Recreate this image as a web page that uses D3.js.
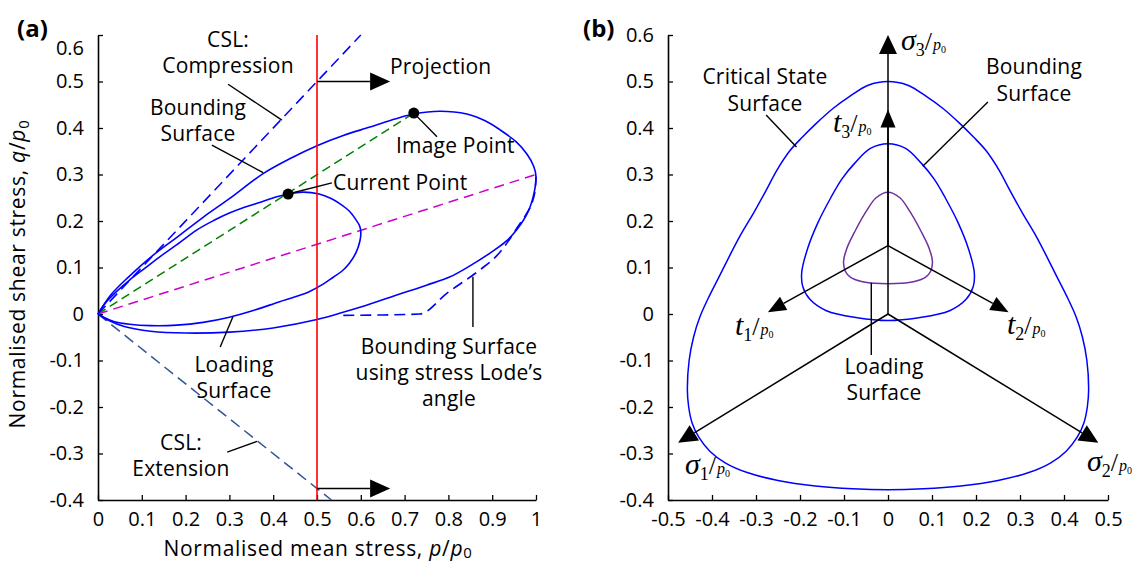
<!DOCTYPE html>
<html>
<head>
<meta charset="utf-8">
<script src="https://cdn.jsdelivr.net/npm/d3@7"></script>
<style>
  body { margin: 0; background: #fff; }
  svg { display: block; font-family: "Open Sans", sans-serif; }
</style>
</head>
<body>
<svg width="1142" height="562"></svg>
<script>
// ---------- data ----------
const ticksP = [0, 0.1, 0.2, 0.3, 0.4, 0.5, 0.6, 0.7, 0.8, 0.9, 1];
const ticksQ = [-0.4, -0.3, -0.2, -0.1, 0, 0.1, 0.2, 0.3, 0.4, 0.5, 0.6];
const ticksDev = [-0.5, -0.4, -0.3, -0.2, -0.1, 0, 0.1, 0.2, 0.3, 0.4, 0.5];

// panel (a): p/p0, q/p0
const cslCompression = [[0, 0], [0.6, 0.6]];
const cslExtension = [[0, 0], [0.533, -0.4]];
const projectionP = 0.5;
const imagePoint = [0.721, 0.432];
const currentPoint = [0.434, 0.258];
const imageLine = [[0, 0], imagePoint];
const lodeLine = [[0, 0], [1, 0.3]];
const projectionArrows = [
  [[0.5, 0.5], [0.667, 0.5]],
  [[0.5, -0.375], [0.667, -0.375]]
];
const boundingA = [
  [0, 0], [0.03, 0.042], [0.07, 0.08], [0.12, 0.122], [0.18, 0.165], [0.24, 0.208],
  [0.3, 0.248], [0.377, 0.302], [0.44, 0.335], [0.5, 0.362], [0.56, 0.384], [0.621, 0.402],
  [0.68, 0.42], [0.721, 0.43], [0.78, 0.436], [0.842, 0.43], [0.885, 0.415], [0.918, 0.396],
  [0.955, 0.37], [0.98, 0.343], [0.995, 0.317], [1.0, 0.295], [0.996, 0.262], [0.982, 0.22],
  [0.956, 0.181], [0.93, 0.155], [0.895, 0.131], [0.85, 0.104], [0.804, 0.08], [0.75, 0.062],
  [0.689, 0.043], [0.6, 0.015], [0.5, -0.012], [0.4, -0.03], [0.3, -0.039], [0.2, -0.041],
  [0.12, -0.037], [0.06, -0.027], [0.025, -0.014], [0, 0]
];
const loadingA = [
  [0, 0], [0.018, 0.025], [0.042, 0.048], [0.072, 0.073], [0.108, 0.099], [0.144, 0.125],
  [0.18, 0.149], [0.226, 0.181], [0.264, 0.201], [0.3, 0.217], [0.336, 0.23], [0.373, 0.241],
  [0.408, 0.252], [0.434, 0.258], [0.468, 0.262], [0.505, 0.258], [0.531, 0.249], [0.551, 0.238],
  [0.573, 0.222], [0.588, 0.204], [0.597, 0.19], [0.6, 0.177], [0.598, 0.157], [0.589, 0.132],
  [0.574, 0.109], [0.558, 0.093], [0.537, 0.079], [0.51, 0.062], [0.482, 0.048], [0.45, 0.037],
  [0.413, 0.026], [0.36, 0.009], [0.3, -0.007], [0.24, -0.018], [0.18, -0.024], [0.12, -0.025],
  [0.072, -0.022], [0.036, -0.016], [0.015, -0.008], [0, 0]
];
const boundingLode = [
  [0.56, -0.003], [0.65, -0.002], [0.735, 0], [0.797, 0.045], [0.872, 0.095], [0.91, 0.125],
  [0.934, 0.153], [0.96, 0.19], [0.979, 0.217], [0.993, 0.245], [0.998, 0.267], [1.0, 0.295]
];

// panel (b): deviatoric plane
const criticalSurface = [
  [0, 0.5], [0.045, 0.492], [0.087, 0.468], [0.125, 0.442], [0.163, 0.41], [0.195, 0.38],
  [0.224, 0.35], [0.252, 0.31], [0.277, 0.266], [0.305, 0.218], [0.335, 0.17], [0.36, 0.125],
  [0.384, 0.08], [0.408, 0.035], [0.427, -0.005], [0.442, -0.05], [0.452, -0.1], [0.456, -0.163],
  [0.453, -0.2], [0.445, -0.235], [0.43, -0.265], [0.405, -0.295], [0.37, -0.32], [0.32, -0.341],
  [0.25, -0.358], [0.165, -0.37], [0.08, -0.376], [0, -0.378], [-0.08, -0.376], [-0.165, -0.37],
  [-0.25, -0.358], [-0.32, -0.341], [-0.37, -0.32], [-0.405, -0.295], [-0.43, -0.265], [-0.445, -0.235],
  [-0.453, -0.2], [-0.456, -0.163], [-0.452, -0.1], [-0.442, -0.05], [-0.427, -0.005], [-0.408, 0.035],
  [-0.384, 0.08], [-0.36, 0.125], [-0.335, 0.17], [-0.305, 0.218], [-0.277, 0.266], [-0.252, 0.31],
  [-0.224, 0.35], [-0.195, 0.38], [-0.163, 0.41], [-0.125, 0.442], [-0.087, 0.468], [-0.045, 0.492]
];
const boundingB = [
  [0, 0.366], [0.04, 0.356], [0.075, 0.325], [0.105, 0.29], [0.13, 0.25], [0.16, 0.195],
  [0.183, 0.14], [0.196, 0.09], [0.194, 0.06], [0.178, 0.032], [0.14, 0.007], [0.07, -0.008],
  [0, -0.014], [-0.07, -0.008], [-0.14, 0.007], [-0.178, 0.032], [-0.194, 0.06], [-0.196, 0.09],
  [-0.183, 0.14], [-0.16, 0.195], [-0.13, 0.25], [-0.105, 0.29], [-0.075, 0.325], [-0.04, 0.356]
];
const loadingB = [
  [0, 0.262], [0.027, 0.25], [0.05, 0.22], [0.075, 0.178], [0.094, 0.14], [0.101, 0.113],
  [0.097, 0.092], [0.085, 0.079], [0.06, 0.07], [0.03, 0.066], [0, 0.065], [-0.03, 0.066],
  [-0.06, 0.07], [-0.085, 0.079], [-0.097, 0.092], [-0.101, 0.113], [-0.094, 0.14], [-0.075, 0.178],
  [-0.05, 0.22], [-0.027, 0.25]
];
const stressAxes = [
  [[0, 0], [0, 0.6]], [[0, 0], [-0.477, -0.277]], [[0, 0], [0.478, -0.277]]
];
const tAxes = [
  [[0, 0.147], [0, 0.44]], [[0, 0.147], [-0.273, 0.004]], [[0, 0.147], [0.274, 0.004]]
];

// ---------- setup ----------
const svg = d3.select("svg");
const FS = 20;   // tick labels
const LS = 21;   // annotation text
const fmt = d => String(+d.toFixed(1));

const xA = d3.scaleLinear().domain([0, 1]).range([98, 536]);
const yA = d3.scaleLinear().domain([-0.4, 0.6]).range([500, 35]);
const xB = d3.scaleLinear().domain([-0.5, 0.5]).range([668, 1108]);
const yB = yA.copy();

function drawAxes(x, y, xt, yt) {
  const g = svg.append("g");
  const gx = g.append("g").attr("transform", `translate(0,${y.range()[0]})`)
    .call(d3.axisBottom(x).tickValues(xt).tickFormat(fmt).tickSize(-5).tickSizeOuter(0).tickPadding(12));
  const gy = g.append("g").attr("transform", `translate(${x.range()[0]},0)`)
    .call(d3.axisLeft(y).tickValues(yt).tickFormat(fmt).tickSize(-5).tickSizeOuter(0).tickPadding(14));
  g.selectAll(".domain").attr("stroke", "#000").attr("stroke-width", 1.6);
  g.selectAll(".tick line").attr("stroke", "#000").attr("stroke-width", 1.3);
  g.selectAll("text").attr("font-family", "Open Sans, sans-serif").attr("font-size", FS).attr("fill", "#000");
  return {gx, gy};
}

const line = (x, y, curve) => d3.line().x(d => x(d[0])).y(d => y(d[1])).curve(curve || d3.curveLinear);

function path(x, y, data, color, opts = {}) {
  return svg.append("path").datum(data)
    .attr("d", line(x, y, opts.curve)(data))
    .attr("fill", "none").attr("stroke", color)
    .attr("stroke-width", opts.width || 1.6)
    .attr("stroke-dasharray", opts.dash || null);
}

function arrow(x, y, seg, len, wid) {
  const [a, b] = seg;
  const x0 = x(a[0]), y0 = y(a[1]), x1 = x(b[0]), y1 = y(b[1]);
  const ang = Math.atan2(y1 - y0, x1 - x0);
  const bx = x1 - len * Math.cos(ang), by = y1 - len * Math.sin(ang);
  svg.append("line").attr("x1", x0).attr("y1", y0).attr("x2", bx).attr("y2", by)
    .attr("stroke", "#000").attr("stroke-width", 1.5);
  const px = Math.sin(ang) * wid / 2, py = -Math.cos(ang) * wid / 2;
  svg.append("path")
    .attr("d", `M${x1},${y1}L${bx + px},${by + py}L${bx - px},${by - py}Z`)
    .attr("fill", "#000");
}

function leader(x, y, a, b) {
  svg.append("line").attr("x1", x(a[0])).attr("y1", y(a[1])).attr("x2", x(b[0])).attr("y2", y(b[1]))
    .attr("stroke", "#000").attr("stroke-width", 1.4);
}

function label(lines, cx, cy, anchor = "middle", gap = 26) {
  lines.forEach((t, i) => {
    svg.append("text").attr("x", cx).attr("y", cy + i * gap).attr("dy", "0.35em")
      .attr("text-anchor", anchor).attr("font-size", LS).attr("letter-spacing", 0.2)
      .attr("fill", "#000").text(t);
  });
}

// ---------- panel (a) ----------
const axA = drawAxes(xA, yA, ticksP, ticksQ);
axA.gy.selectAll(".tick text").filter(d => d === 0.6).attr("dy", "0.95em");

path(xA, yA, cslCompression, "#0000ff", {dash: "11,6", width: 1.5});
path(xA, yA, cslExtension, "#2f5597", {dash: "11,6", width: 1.5});
path(xA, yA, imageLine, "#008000", {dash: "9,5", width: 1.5});
path(xA, yA, lodeLine, "#cc00cc", {dash: "10,6", width: 1.5});
path(xA, yA, boundingLode, "#0000ff", {dash: "11,6", width: 1.6, curve: d3.curveMonotoneX});
path(xA, yA, boundingA, "#0000ff", {curve: d3.curveCatmullRom});
path(xA, yA, loadingA, "#0000ff", {curve: d3.curveCatmullRom});

svg.append("line")
  .attr("x1", xA(projectionP)).attr("x2", xA(projectionP))
  .attr("y1", yA(-0.4)).attr("y2", yA(0.6))
  .attr("stroke", "#ff0000").attr("stroke-width", 1.6);

projectionArrows.forEach(s => arrow(xA, yA, s, 20, 18));

svg.selectAll("circle.pt").data([imagePoint, currentPoint]).enter().append("circle")
  .attr("class", "pt").attr("cx", d => xA(d[0])).attr("cy", d => yA(d[1])).attr("r", 5.5).attr("fill", "#000");

leader(xA, yA, [0.297, 0.494], [0.42, 0.417]);
leader(xA, yA, [0.26, 0.363], [0.377, 0.304]);
leader(xA, yA, imagePoint, [0.774, 0.381]);
leader(xA, yA, currentPoint, [0.534, 0.282]);
leader(xA, yA, [0.308, -0.006], [0.279, -0.071]);
leader(xA, yA, [0.856, 0.08], [0.856, -0.028]);
leader(xA, yA, [0.295, -0.297], [0.363, -0.274]);

label(["CSL:", "Compression"], 228, 40);
label(["Bounding", "Surface"], 198, 108);
label(["Projection"], 390, 67, "start");
label(["Image Point"], 396, 146, "start");
label(["Current Point"], 333, 183, "start");
label(["Loading", "Surface"], 234, 365);
label(["Bounding Surface", "using stress Lode\u2019s", "angle"], 449, 347);
label(["CSL:", "Extension"], 181, 443);

svg.append("text").attr("x", 17).attr("y", 29).attr("dy", "0.35em").attr("font-size", 24)
  .attr("font-weight", "bold").text("(a)");

const yt = svg.append("text").attr("transform", "translate(18,274) rotate(-90)")
  .attr("text-anchor", "middle").attr("dy", "0.35em").attr("font-size", LS).attr("letter-spacing", 0.7);
yt.append("tspan").text("Normalised shear stress, ");
yt.append("tspan").attr("font-style", "italic").text("q");
yt.append("tspan").text("/");
yt.append("tspan").attr("font-style", "italic").text("p");
yt.append("tspan").attr("font-size", 15).attr("dy", 4).text("0");

const xt = svg.append("text").attr("x", 318).attr("y", 549).attr("text-anchor", "middle")
  .attr("dy", "0.35em").attr("font-size", LS).attr("letter-spacing", 0.7);
xt.append("tspan").text("Normalised mean stress, ");
xt.append("tspan").attr("font-style", "italic").text("p");
xt.append("tspan").text("/");
xt.append("tspan").attr("font-style", "italic").text("p");
xt.append("tspan").attr("font-size", 15).attr("dy", 2).text("0");

// ---------- panel (b) ----------
drawAxes(xB, yB, ticksDev, ticksQ);

path(xB, yB, criticalSurface, "#0000ff", {curve: d3.curveCatmullRomClosed, width: 1.5});
path(xB, yB, boundingB, "#0000ff", {curve: d3.curveCatmullRomClosed, width: 1.5});
path(xB, yB, loadingB, "#7030a0", {curve: d3.curveCatmullRomClosed, width: 1.5});

stressAxes.forEach(s => arrow(xB, yB, s, 19, 18));
tAxes.forEach(s => arrow(xB, yB, s, 18, 15));

leader(xB, yB, [-0.277, 0.428], [-0.208, 0.359]);
leader(xB, yB, [0.227, 0.456], [0.079, 0.318]);
leader(xB, yB, [-0.038, 0.067], [-0.038, -0.088]);

label(["Critical State", "Surface"], 765, 77, "middle", 27);
label(["Bounding", "Surface"], 1034, 67, "middle", 27);
label(["Loading", "Surface"], 884, 367, "middle", 26);

svg.append("text").attr("x", 583).attr("y", 29).attr("dy", "0.35em").attr("font-size", 24)
  .attr("font-weight", "bold").text("(b)");

function mathLabel(x, y, sym, sub) {
  const t = svg.append("text").attr("x", x).attr("y", y)
    .attr("font-family", "'Liberation Serif', 'DejaVu Serif', serif").attr("fill", "#000");
  t.append("tspan").attr("font-style", "italic").attr("font-size", 30).text(sym);
  t.append("tspan").attr("font-size", 18).attr("dy", 6).text(sub);
  t.append("tspan").attr("font-size", 26).attr("dy", -6).text("/");
  t.append("tspan").attr("font-style", "italic").attr("font-size", 16).attr("dx", 1).text("p");
  t.append("tspan").attr("font-size", 10).attr("dy", 3).text("0");
}
mathLabel(901, 50, "\u03c3", "3");
mathLabel(833, 132, "t", "3");
mathLabel(735, 335, "t", "1");
mathLabel(1007, 334, "t", "2");
mathLabel(685, 474, "\u03c3", "1");
mathLabel(1087, 471, "\u03c3", "2");
</script>
</body>
</html>
